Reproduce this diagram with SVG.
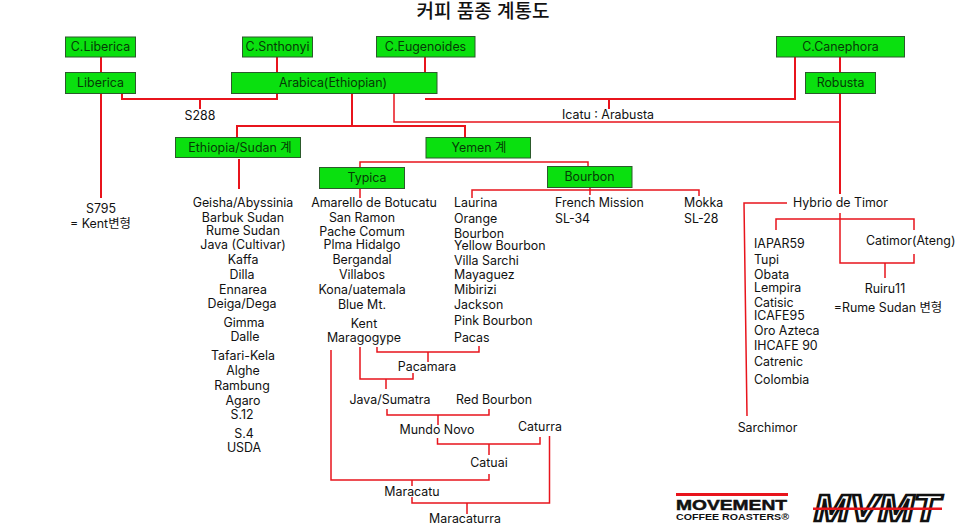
<svg xmlns="http://www.w3.org/2000/svg" width="966" height="530" viewBox="0 0 966 530">
<style>
text{font-family:"Inter","Noto Sans CJK KR",sans-serif;font-size:12.400px;fill:#111}
.m{text-anchor:middle}
.n rect{fill:#0ae00f;stroke:#2c5a2c;stroke-width:1}
.n text{text-anchor:middle;fill:#063a06}
.c path{fill:none;stroke:#e8141c;stroke-width:2}
.c .t{stroke-width:1.500}
.h{font-family:"Liberation Sans","Noto Sans CJK KR",sans-serif;font-size:19px;text-anchor:middle;font-weight:500}
</style>
<rect width="966" height="530" fill="#fff"/>
<text class="h" x="483" y="17.500">커피 품종 계통도</text>
<g class="c" id="connectors">
<path d="M101 57V72M101 93V198M122 93V99H277V93M200 99V109M277 57V72M425 57V72"/>
<path d="M425 99H795V57M609 99V109M840 57V72M840 93V194"/>
<path class="t" d="M394 93V122H840"/>
<path d="M352 93V126M237 137V126H465V137M239 159V189"/>
<path class="t" d="M360 167V162H588V166M360 188V198M472 198V190H699V196M590 187V195"/>
<path class="t" d="M787 203H744L747 416"/>
<path class="t" d="M776 230V219H914V230M840 213V263H914V254M885 263V278"/>
<path class="t" d="M331 350V480H489V474M412 480V486M412 497V503H549.500V436M467 503V514"/>
<path class="t" d="M360 347V379H413V373M386 379V389M377 347V352H479V346M428 352V362"/>
<path class="t" d="M387 409V415H489V409M438 415V425M437.500 438V444H540V437M489 444V455"/>
</g>
<g class="n" id="n-cliberica"><rect x="65.500" y="37" width="70" height="20"/><text x="100.500" y="51">C.Liberica</text></g>
<g class="n" id="n-liberica"><rect x="65.500" y="72.500" width="70" height="21"/><text x="100.500" y="87">Liberica</text></g>
<g class="n" id="n-csnthonyi"><rect x="242.500" y="37" width="70" height="20"/><text x="277.500" y="51">C.Snthonyi</text></g>
<g class="n" id="n-ceugenoides"><rect x="376.500" y="36.500" width="98.500" height="20.500"/><text x="425.500" y="50.500">C.Eugenoides</text></g>
<g class="n" id="n-arabica"><rect x="231.500" y="72.500" width="205.500" height="21"/><text x="333" y="87">Arabica(Ethiopian)</text></g>
<g class="n" id="n-ethiopia"><rect x="175.500" y="137.500" width="125" height="20"/><text x="240" y="152">Ethiopia/Sudan 계</text></g>
<g class="n" id="n-yemen"><rect x="426" y="137.500" width="104.500" height="20.500"/><text x="479" y="152">Yemen 계</text></g>
<g class="n" id="n-typica"><rect x="319.500" y="167.500" width="85" height="21"/><text x="367" y="182">Typica</text></g>
<g class="n" id="n-bourbon"><rect x="547.500" y="166.500" width="84.500" height="21"/><text x="589.500" y="181">Bourbon</text></g>
<g class="n" id="n-ccanephora"><rect x="776.500" y="36.500" width="128" height="20.500"/><text x="840.500" y="50.500">C.Canephora</text></g>
<g class="n" id="n-robusta"><rect x="805.500" y="72.500" width="70" height="21"/><text x="840.500" y="87">Robusta</text></g>
<g id="labels">
<text class="m" x="200" y="120">S288</text>
<text class="m" x="101" y="213">S795</text>
<text class="m" x="100.500" y="228">= Kent변형</text>
<text class="m" x="608" y="119">Icatu : Arabusta</text>
<text class="m" x="243" y="207">Geisha/Abyssinia</text>
<text class="m" x="243" y="222">Barbuk Sudan</text>
<text class="m" x="243" y="235">Rume Sudan</text>
<text class="m" x="243" y="249">Java (Cultivar)</text>
<text class="m" x="243" y="264">Kaffa</text>
<text class="m" x="242" y="279">Dilla</text>
<text class="m" x="243" y="294">Ennarea</text>
<text class="m" x="242" y="308">Deiga/Dega</text>
<text class="m" x="244" y="327">Gimma</text>
<text class="m" x="245" y="341">Dalle</text>
<text class="m" x="243" y="360">Tafari-Kela</text>
<text class="m" x="243" y="375">Alghe</text>
<text class="m" x="242" y="390">Rambung</text>
<text class="m" x="243" y="405">Agaro</text>
<text class="m" x="242" y="419">S.12</text>
<text class="m" x="244" y="438">S.4</text>
<text class="m" x="244" y="452">USDA</text>
<text class="m" x="374" y="207">Amarello de Botucatu</text>
<text class="m" x="362" y="222">San Ramon</text>
<text class="m" x="362" y="236">Pache Comum</text>
<text class="m" x="362" y="249">Plma Hidalgo</text>
<text class="m" x="362" y="264">Bergandal</text>
<text class="m" x="362" y="279">Villabos</text>
<text class="m" x="362" y="294">Kona/uatemala</text>
<text class="m" x="362" y="309">Blue Mt.</text>
<text class="m" x="364" y="328">Kent</text>
<text class="m" x="364" y="342">Maragogype</text>
<text x="454" y="207">Laurina</text>
<text x="454" y="223">Orange</text>
<text x="454" y="238">Bourbon</text>
<text x="454" y="250">Yellow Bourbon</text>
<text x="454" y="265">Villa Sarchi</text>
<text x="454" y="279">Mayaguez</text>
<text x="454" y="294">Mibirizi</text>
<text x="454" y="309">Jackson</text>
<text x="454" y="325">Pink Bourbon</text>
<text x="454" y="342">Pacas</text>
<text x="555" y="207">French Mission</text>
<text x="555" y="223">SL-34</text>
<text x="684" y="207">Mokka</text>
<text x="684" y="223">SL-28</text>
<text class="m" x="840.500" y="207">Hybrio de Timor</text>
<text x="754" y="248">IAPAR59</text>
<text x="754" y="264">Tupi</text>
<text x="754" y="279">Obata</text>
<text x="754" y="292">Lempira</text>
<text x="754" y="307">Catisic</text>
<text x="754" y="320">ICAFE95</text>
<text x="754" y="335">Oro Azteca</text>
<text x="754" y="350">IHCAFE 90</text>
<text x="754" y="366">Catrenic</text>
<text x="754" y="384">Colombia</text>
<text x="866" y="245">Catimor(Ateng)</text>
<text class="m" x="885" y="293">Ruiru11</text>
<text class="m" x="888" y="312">=Rume Sudan 변형</text>
<text class="m" x="767.500" y="432">Sarchimor</text>
<text class="m" x="427" y="371">Pacamara</text>
<text class="m" x="390" y="404">Java/Sumatra</text>
<text class="m" x="494" y="404">Red Bourbon</text>
<text class="m" x="437" y="434">Mundo Novo</text>
<text class="m" x="540" y="431">Caturra</text>
<text class="m" x="489" y="467">Catuai</text>
<text class="m" x="412" y="496">Maracatu</text>
<text class="m" x="465" y="523">Maracaturra</text>
</g>
<g id="logo">
<rect x="676" y="493" width="112" height="3" fill="#e8141c"/>
<text x="676" y="510" style="font-family:'Liberation Sans',sans-serif;font-size:15.500px;font-weight:700;fill:#111" textLength="111" lengthAdjust="spacingAndGlyphs" stroke="#111" stroke-width=".5">MOVEMENT</text>
<text x="676" y="520" style="font-family:'Liberation Sans',sans-serif;font-size:9.500px;font-weight:700;fill:#111" textLength="113" lengthAdjust="spacingAndGlyphs">COFFEE ROASTERS®</text>
<text x="814" y="520.500" style="font-family:'Liberation Sans',sans-serif;font-size:36px;font-weight:700;font-style:italic;fill:#fff" stroke="#111" stroke-width="2.500" textLength="126" lengthAdjust="spacingAndGlyphs">MVMT</text>
<rect x="813" y="507.500" width="129" height="2.500" fill="#e8141c"/>
</g>
</svg>
